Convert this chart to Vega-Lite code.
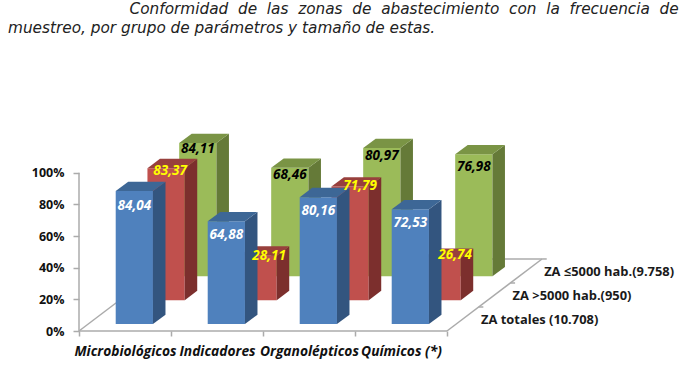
{
"$schema":"https://vega.github.io/schema/vega-lite/v6.json",
"width":700,"height":340,"autosize":"none","padding":{"left":0,"top":44,"right":0,"bottom":0},
"background":"white",
"config":{"view":{"stroke":null},"text":{"font":"Open Sans"}},
"title":{"text":["\u200b\u00a0\u00a0\u00a0\u00a0\u00a0\u00a0\u00a0\u00a0\u00a0\u00a0\u00a0\u00a0\u00a0\u00a0\u00a0\u00a0\u00a0\u00a0\u00a0\u00a0\u00a0\u00a0\u00a0\u00a0\u00a0Conformidad\u00a0 de\u00a0 las\u00a0 zonas\u00a0 de\u00a0 abastecimiento\u00a0 con\u00a0 la\u00a0 frecuencia\u00a0 de","muestreo, por grupo de parámetros y tamaño de estas."],"anchor":"start","frame":"group","font":"DejaVu Sans","fontStyle":"italic","fontWeight":"normal","fontSize":15.3,"lineHeight":18.5,"color":"#222222","dx":8,"offset":8},
"datasets":{"marco":[{"linea":"eje"},{"linea":"base"},{"linea":"izq"},{"linea":"der"},{"linea":"fondo"},{"linea":"t1"},{"linea":"t2"},{"linea":"t3"}]},
"data":{"values":[
{"grupo":"Microbiológicos","serie":"ZA totales (10.708)","valor":84.04},
{"grupo":"Indicadores","serie":"ZA totales (10.708)","valor":64.88},
{"grupo":"Organolépticos","serie":"ZA totales (10.708)","valor":80.16},
{"grupo":"Químicos (*)","serie":"ZA totales (10.708)","valor":72.53},
{"grupo":"Microbiológicos","serie":"ZA >5000 hab.(950)","valor":83.37},
{"grupo":"Indicadores","serie":"ZA >5000 hab.(950)","valor":28.11},
{"grupo":"Organolépticos","serie":"ZA >5000 hab.(950)","valor":71.79},
{"grupo":"Químicos (*)","serie":"ZA >5000 hab.(950)","valor":26.74},
{"grupo":"Microbiológicos","serie":"ZA ≤5000 hab.(9.758)","valor":84.11},
{"grupo":"Indicadores","serie":"ZA ≤5000 hab.(9.758)","valor":68.46},
{"grupo":"Organolépticos","serie":"ZA ≤5000 hab.(9.758)","valor":80.97},
{"grupo":"Químicos (*)","serie":"ZA ≤5000 hab.(9.758)","valor":76.98}
]},
"transform":[
{"calculate":"indexof(['Microbiológicos','Indicadores','Organolépticos','Químicos (*)'],datum.grupo)","as":"c"},
{"calculate":"indexof(['ZA totales (10.708)','ZA >5000 hab.(950)','ZA ≤5000 hab.(9.758)'],datum.serie)","as":"n"},
{"calculate":"datum.c+0.399+datum.n*0.345","as":"xl"},
{"calculate":"datum.xl+0.405","as":"xr"},
{"calculate":"4.4+datum.n*15.1","as":"base"},
{"calculate":"datum.base+datum.valor","as":"top"},
{"calculate":"datum.xl","as":"X"},
{"calculate":"datum.xr","as":"X2"},
{"calculate":"datum.top","as":"Y"},
{"calculate":"datum.base","as":"Y2"},
{"calculate":"[0,1]","as":"t"},
{"flatten":["t"]}
],
"encoding":{
"x":{"field":"X","type":"quantitative","title":null,"scale":{"domain":[-0.8587,6.75],"nice":false,"zero":false},
 "axis":{"values":[0,0.5,1,1.5,2,2.5,3,3.5,4],"offset":-53,"domain":false,"grid":false,"tickColor":"#ABABAB","tickSize":5,"tickWidth":1.5,"tickOpacity":{"condition":{"test":"datum.value%1==0","value":1},"value":0},"labelExpr":"datum.value%1==0?'':['Microbiológicos','Indicadores','Organolépticos','Químicos (*)'][floor(datum.value)]","labelFont":"Open Sans","labelFontWeight":"bold","labelFontStyle":"italic","labelFontSize":13.8,"labelColor":"#111111","labelPadding":8,"labelOverlap":false,"labelAngle":0}},
"y":{"field":"Y","type":"quantitative","stack":null,"title":null,"scale":{"domain":[-33.48,181.3],"nice":false,"zero":false},
 "axis":{"values":[0,20,40,60,80,100],"offset":-79,"domain":false,"grid":false,"tickColor":"#ABABAB","tickSize":6,"tickWidth":1.5,"labelExpr":"datum.value+'%'","labelFont":"Open Sans","labelFontWeight":"bold","labelFontSize":12.5,"labelColor":"#111111","labelPadding":9}}
},
"layer":[
{"data":{"name":"marco"},
"transform":[
{"calculate":"{eje:0,base:0,izq:0,der:4,fondo:1.033,t1:4.344,t2:4.689,t3:5.033}[datum.linea]","as":"X"},
{"calculate":"{eje:0,base:4,izq:1.033,der:5.033,fondo:5.033,t1:4.395,t2:4.74,t3:5.084}[datum.linea]","as":"X2"},
{"calculate":"{eje:0,base:0,izq:0,der:0,fondo:45.5,t1:15.17,t2:30.33,t3:45.5}[datum.linea]","as":"Y"},
{"calculate":"{eje:100,base:0,izq:45.5,der:45.5,fondo:45.5,t1:15.17,t2:30.33,t3:45.5}[datum.linea]","as":"Y2"}],
"mark":{"type":"rule","color":"#ABABAB","strokeWidth":1.5},"encoding":{"x2":{"field":"X2"},"y2":{"field":"Y2"}}},

{"transform":[{"filter":"datum.n==2&&datum.t==0"}],"mark":{"type":"rect","color":"#9BBB59"},"encoding":{"x2":{"field":"X2"},"y2":{"field":"Y2"}}},
{"transform":[{"filter":"datum.n==2"},{"calculate":"datum.xr+datum.t*0.136","as":"X"},{"calculate":"datum.top+datum.t*5.9","as":"Y"},{"calculate":"datum.base+datum.t*5.9","as":"Y2"}],"mark":{"type":"area","color":"#657A38","orient":"vertical"},"encoding":{"y2":{"field":"Y2"},"detail":{"field":"grupo"}}},
{"transform":[{"filter":"datum.n==2"},{"calculate":"datum.xl+datum.t*0.136","as":"X"},{"calculate":"datum.xr+datum.t*0.136","as":"X2"},{"calculate":"datum.top+datum.t*5.9","as":"Y"}],"mark":{"type":"area","color":"#7A9445","orient":"horizontal"},"encoding":{"x2":{"field":"X2"},"detail":{"field":"grupo"}}},

{"transform":[{"filter":"datum.n==1&&datum.t==0"}],"mark":{"type":"rect","color":"#C0504D"},"encoding":{"x2":{"field":"X2"},"y2":{"field":"Y2"}}},
{"transform":[{"filter":"datum.n==1"},{"calculate":"datum.xr+datum.t*0.136","as":"X"},{"calculate":"datum.top+datum.t*5.9","as":"Y"},{"calculate":"datum.base+datum.t*5.9","as":"Y2"}],"mark":{"type":"area","color":"#7C2F2D","orient":"vertical"},"encoding":{"y2":{"field":"Y2"},"detail":{"field":"grupo"}}},
{"transform":[{"filter":"datum.n==1"},{"calculate":"datum.xl+datum.t*0.136","as":"X"},{"calculate":"datum.xr+datum.t*0.136","as":"X2"},{"calculate":"datum.top+datum.t*5.9","as":"Y"}],"mark":{"type":"area","color":"#98403D","orient":"horizontal"},"encoding":{"x2":{"field":"X2"},"detail":{"field":"grupo"}}},

{"transform":[{"filter":"datum.n==0&&datum.t==0"}],"mark":{"type":"rect","color":"#4F81BD"},"encoding":{"x2":{"field":"X2"},"y2":{"field":"Y2"}}},
{"transform":[{"filter":"datum.n==0"},{"calculate":"datum.xr+datum.t*0.136","as":"X"},{"calculate":"datum.top+datum.t*5.9","as":"Y"},{"calculate":"datum.base+datum.t*5.9","as":"Y2"}],"mark":{"type":"area","color":"#33557F","orient":"vertical"},"encoding":{"y2":{"field":"Y2"},"detail":{"field":"grupo"}}},
{"transform":[{"filter":"datum.n==0"},{"calculate":"datum.xl+datum.t*0.136","as":"X"},{"calculate":"datum.xr+datum.t*0.136","as":"X2"},{"calculate":"datum.top+datum.t*5.9","as":"Y"}],"mark":{"type":"area","color":"#3D6796","orient":"horizontal"},"encoding":{"x2":{"field":"X2"},"detail":{"field":"grupo"}}},

{"transform":[{"filter":"datum.t==0"},
{"calculate":"[[15,14,14,14],[3,0,0,-3],[6,7,8,13]][datum.n][datum.c]","as":"off"},
{"calculate":"datum.n==1?[4,11,10,13][datum.c]:0","as":"dxp"},
{"calculate":"(datum.xl+datum.xr)/2+datum.dxp/92","as":"X"},
{"calculate":"datum.top-datum.off/1.583","as":"Y"},
{"calculate":"replace(format(datum.valor,'.2f'),'.',',')","as":"etiqueta"}],
"mark":{"type":"text","font":"Open Sans","fontWeight":"bold","fontStyle":"italic","fontSize":13.5,"align":"center","baseline":"middle"},
"encoding":{"text":{"field":"etiqueta"},"color":{"field":"serie","legend":null,"scale":{"domain":["ZA totales (10.708)","ZA >5000 hab.(950)","ZA ≤5000 hab.(9.758)"],"range":["#FFFFFF","#FFFF00","#000000"]}}}},

{"transform":[{"filter":"datum.c==0&&datum.t==0"},
{"calculate":"4.37+datum.n*0.343","as":"X"},
{"calculate":"7+datum.n*15","as":"Y"}],
"mark":{"type":"text","font":"Open Sans","fontWeight":"bold","fontSize":12.9,"align":"left","baseline":"middle","color":"#1A1A1A"},
"encoding":{"text":{"field":"serie"}}}
]
}
